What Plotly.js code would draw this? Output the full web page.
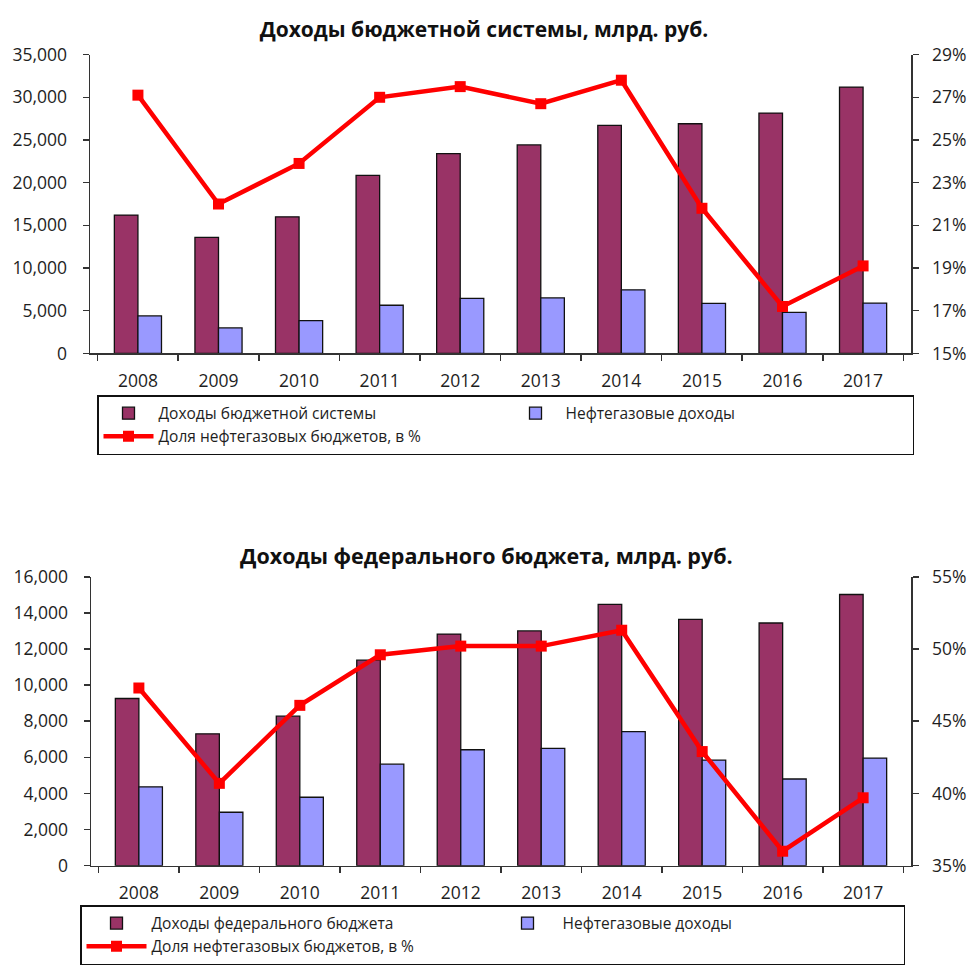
<!DOCTYPE html>
<html>
<head>
<meta charset="utf-8">
<script src="https://cdn.plot.ly/plotly-3.0.1.min.js"></script>
<style>html,body{margin:0;padding:0;background:#fff;}#chart{width:969px;height:965px;}</style>
</head>
<body>
<div id="chart"></div>
<script>
// Categories
const years = ['2008','2009','2010','2011','2012','2013','2014','2015','2016','2017'];

// Top chart: budget system revenues, bn RUB
const budgetSystem = [16200, 13600, 16000, 20850, 23400, 24420, 26700, 26900, 28150, 31200];
const oilGasTop    = [4390, 2980, 3830, 5640, 6450, 6500, 7450, 5860, 4800, 5900];
const shareTop     = [27.1, 22.0, 23.9, 27.0, 27.5, 26.7, 27.8, 21.8, 17.2, 19.1];

// Bottom chart: federal budget revenues, bn RUB
const federal      = [9260, 7300, 8280, 11380, 12830, 13000, 14470, 13640, 13440, 15020];
const oilGasBot    = [4370, 2960, 3790, 5620, 6420, 6500, 7420, 5850, 4800, 5960];
const shareBot     = [47.3, 40.7, 46.1, 49.6, 50.2, 50.2, 51.3, 42.9, 36.0, 39.7];

// Text
const titleTop = 'Доходы бюджетной системы, млрд. руб.';
const titleBot = 'Доходы федерального бюджета, млрд. руб.';
const nameBudget = 'Доходы бюджетной системы';
const nameFederal = 'Доходы федерального бюджета';
const nameOilGas = 'Нефтегазовые доходы';
const nameShare = 'Доля нефтегазовых бюджетов, в %';

const MAROON = '#993366', BLUE = '#9999FF', RED = '#FF0000';
const FONT = 'Open Sans, Liberation Sans, sans-serif';
const TXT = '#1e1e1e';
const AX = '#333333';

function barTrace(name, y, color, xa, ya, leg) {
  return {type:'bar', name:name, x:years, y:y, xaxis:xa, yaxis:ya, legend:leg,
    marker:{color:color, line:{color:'#111', width:1.3}}, hoverinfo:'y'};
}
function lineTrace(y, xa, ya, leg) {
  return {type:'scatter', mode:'lines+markers', name:nameShare, x:years, y:y, xaxis:xa, yaxis:ya, legend:leg,
    line:{color:RED, width:4.5}, marker:{symbol:'square', size:11, color:RED}, cliponaxis:false};
}

const data = [
  barTrace(nameBudget, budgetSystem, MAROON, 'x', 'y', 'legend'),
  barTrace(nameOilGas, oilGasTop, BLUE, 'x', 'y', 'legend'),
  lineTrace(shareTop, 'x', 'y2', 'legend'),
  barTrace(nameFederal, federal, MAROON, 'x2', 'y3', 'legend2'),
  barTrace(nameOilGas, oilGasBot, BLUE, 'x2', 'y3', 'legend2'),
  lineTrace(shareBot, 'x2', 'y4', 'legend2')
];

const W = 969, H = 965;
const px = v => v / W, py = v => 1 - v / H;

const tickFont = {family:FONT, size:17.5, color:TXT};
function xAxis(domain, anchor) {
  return {domain:domain, anchor:anchor, type:'category', showline:true, linecolor:AX, linewidth:1.5,
    ticks:'outside', tickson:'boundaries', ticklen:6, tickcolor:AX, tickwidth:1.5,
    showgrid:false, zeroline:false, tickfont:tickFont, ticklabelstandoff:11, fixedrange:true};
}
function yLeft(domain, anchor, range, dtick) {
  return {domain:domain, anchor:anchor, range:range, dtick:dtick, tick0:range[0], tickformat:',d', showline:true,
    linecolor:AX, linewidth:1.5, ticks:'outside', ticklen:6, tickcolor:AX, tickwidth:1.5,
    showgrid:false, zeroline:false, tickfont:tickFont, ticklabelstandoff:12, fixedrange:true};
}
function yRight(overlay, anchor, range, dtick) {
  return {overlaying:overlay, anchor:anchor, side:'right', range:range, dtick:dtick, tick0:range[0], ticksuffix:'%',
    showline:true, linecolor:AX, linewidth:1.5, ticks:'outside', ticklen:6, tickcolor:AX, tickwidth:1.5,
    showgrid:false, zeroline:false, tickfont:tickFont, ticklabelstandoff:10, fixedrange:true};
}

const legendBase = {orientation:'h', xanchor:'left', yanchor:'top', bordercolor:'#111', borderwidth:1.5,
  bgcolor:'#fff', font:{family:FONT, size:15.5, color:TXT}, entrywidthmode:'pixels', traceorder:'normal'};

const layout = {
  width:W, height:H, margin:{l:0, r:0, t:0, b:0}, paper_bgcolor:'#fff', plot_bgcolor:'#fff',
  font:{family:FONT, color:TXT},
  barmode:'group', bargap:0.415, bargroupgap:0,
  title:{text:'<b>' + titleTop + '</b>', x:px(484), xanchor:'center', y:py(30), yanchor:'middle',
    font:{family:FONT, size:21, color:'#111'}},
  xaxis: xAxis([px(90), px(911)], 'y'),
  yaxis: yLeft([py(356), py(55)], 'x', [0, 35000], 5000),
  yaxis2: yRight('y', 'x', [15, 29], 2),
  xaxis2: xAxis([px(91), px(911)], 'y3'),
  yaxis3: yLeft([py(872), py(581)], 'x2', [0, 16000], 2000),
  yaxis4: yRight('y3', 'x2', [35, 55], 5),
  legend: Object.assign({}, legendBase, {x:px(97), y:py(398), itemwidth:50, entrywidth:342}),
  legend2: Object.assign({}, legendBase, {x:px(80), y:py(912), itemwidth:60, entrywidth:336}),
  annotations:[{text:'<b>' + titleBot + '</b>', xref:'paper', yref:'paper', x:px(487), y:py(560),
    xanchor:'center', yanchor:'middle', showarrow:false, font:{family:FONT, size:21.5, color:'#111'}}],
  showlegend:true
};

Plotly.newPlot('chart', data, layout, {displayModeBar:false, staticPlot:true});
</script>
</body>
</html>
